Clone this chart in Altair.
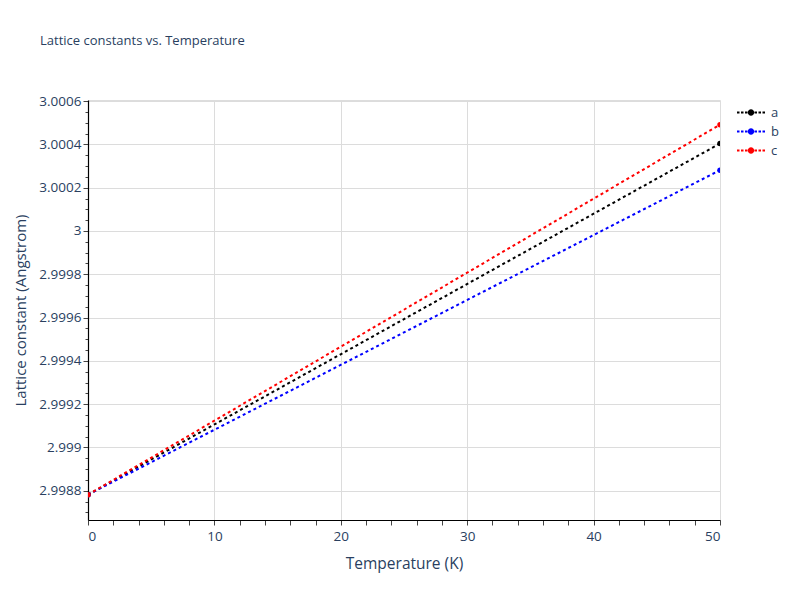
import altair as alt
import pandas as pd

# ---- data ----
temperature = [0, 50]
series_names = ["a", "b", "c"]
lattice_a = [2.998782, 3.000404]
lattice_b = [2.998782, 3.000281]
lattice_c = [2.998782, 3.000491]
series_colors = ["#000000", "#0000ff", "#ff0000"]

x_ticks = list(range(0, 51, 2))
y_ticks = [round(2.9987 + 0.00005 * i, 5) for i in range(39)]

rows = []
for name, vals in zip(series_names, [lattice_a, lattice_b, lattice_c]):
    for t, v in zip(temperature, vals):
        rows.append({"T": t, "L": v, "series": name, "line_series": name})
df = pd.DataFrame(rows)

FONT = "Open Sans"
TXT = "#2a3f5f"

# legend symbol: dotted line with a dot in the middle (unit coords, r = 14px)
def _legend_path():
    s = 14.0
    h = 1.0 / s
    parts = []
    for x0, x1 in [(-14, -11.5), (-10, -7.5), (-6, -3.5), (3.5, 6), (7.5, 10), (11.5, 14)]:
        parts.append(f"M{x0/s:.4f},{-h:.4f}H{x1/s:.4f}V{h:.4f}H{x0/s:.4f}Z")
    r = 3.2 / s
    parts.append(f"M{-r:.4f},0A{r:.4f},{r:.4f},0,1,1,{r:.4f},0A{r:.4f},{r:.4f},0,1,1,{-r:.4f},0Z")
    return "".join(parts)

LEGEND_PATH = _legend_path()

x_scale = alt.Scale(domain=[0, 50], nice=False, zero=False)
y_scale = alt.Scale(domain=[2.998665, 3.000605], nice=False, zero=False)
color_scale = alt.Scale(domain=series_names, range=series_colors)

x_major_test = "datum.value % 10 === 0"
y_major_test = "abs(datum.value*5000 - round(datum.value*5000)) < 0.01"

x_axis = alt.Axis(
    values=x_ticks,
    tickCount=500,
    labelOverlap=False,
    labelExpr=f"{x_major_test} ? format(datum.value, 'd') : ''",
    grid=True,
    gridColor="#dcdcdc",
    gridOpacity={"condition": {"test": x_major_test + " && datum.value > 0 && datum.value < 50", "value": 1}, "value": 0},
    domainColor="#000000",
    domainWidth=1.2,
    tickColor="#444444",
    tickSize=5,
    labelFont=FONT,
    labelFontSize=13.5,
    labelColor=TXT,
    labelPadding=4,
    title="Temperature (K)",
    titleFont=FONT,
    titleFontSize=15.5,
    titleFontWeight="normal",
    titleColor=TXT,
    titlePadding=14,
)

y_axis = alt.Axis(
    values=y_ticks,
    tickCount=500,
    labelOverlap=False,
    labelExpr=f"{y_major_test} ? format(datum.value, '.5~r') : ''",
    grid=True,
    gridColor="#dcdcdc",
    gridOpacity={"condition": {"test": y_major_test, "value": 1}, "value": 0},
    domainColor="#000000",
    domainWidth=1.2,
    tickColor="#444444",
    tickSize={"condition": {"test": y_major_test, "value": 5}, "value": 3},
    labelFont=FONT,
    labelFontSize=13.5,
    labelColor=TXT,
    labelPadding=2,
    title="Lattice constant (Angstrom)",
    titleFont=FONT,
    titleFontSize=15,
    titleFontWeight="normal",
    titleColor=TXT,
    titlePadding=10,
)

base = alt.Chart(df)

lines = base.mark_line(strokeDash=[3, 3], strokeWidth=2, clip=True).encode(
    x=alt.X("T:Q", scale=x_scale, axis=x_axis),
    y=alt.Y("L:Q", scale=y_scale, axis=y_axis),
    stroke=alt.Stroke("line_series:N", scale=color_scale, legend=None),
)

points = base.mark_point(filled=True, size=30, opacity=1, shape="circle", clip=True).encode(
    x=alt.X("T:Q", scale=x_scale),
    y=alt.Y("L:Q", scale=y_scale),
    fill=alt.Fill(
        "series:N",
        scale=color_scale,
        legend=alt.Legend(
            title=None,
            orient="none",
            legendX=649,
            legendY=5,
            symbolType=LEGEND_PATH,
            symbolSize=784,
            symbolStrokeWidth=0,
            symbolOpacity=1,
            labelFont=FONT,
            labelFontSize=13,
            labelColor=TXT,
            labelOffset=6,
            clipHeight=15,
            rowPadding=4,
        ),
    ),
)

chart = (
    alt.layer(lines, points)
    .properties(
        width=632,
        height=420,
        autosize=alt.AutoSizeParams(type="none"),
        padding={"left": 80, "top": 92, "right": 72, "bottom": 72},
        title=alt.TitleParams(
            "Lattice constants vs. Temperature",
            anchor="start",
            frame="group",
            dx=-48,
            offset=46,
            font=FONT,
            fontSize=13,
            fontWeight="normal",
            color=TXT,
        ),
    )
    .resolve_scale(fill="independent", stroke="independent")
    .configure_view(stroke=None)
    .configure(font=FONT)
)

chart.save("out.html", embed_options={"renderer": "svg", "actions": False})
